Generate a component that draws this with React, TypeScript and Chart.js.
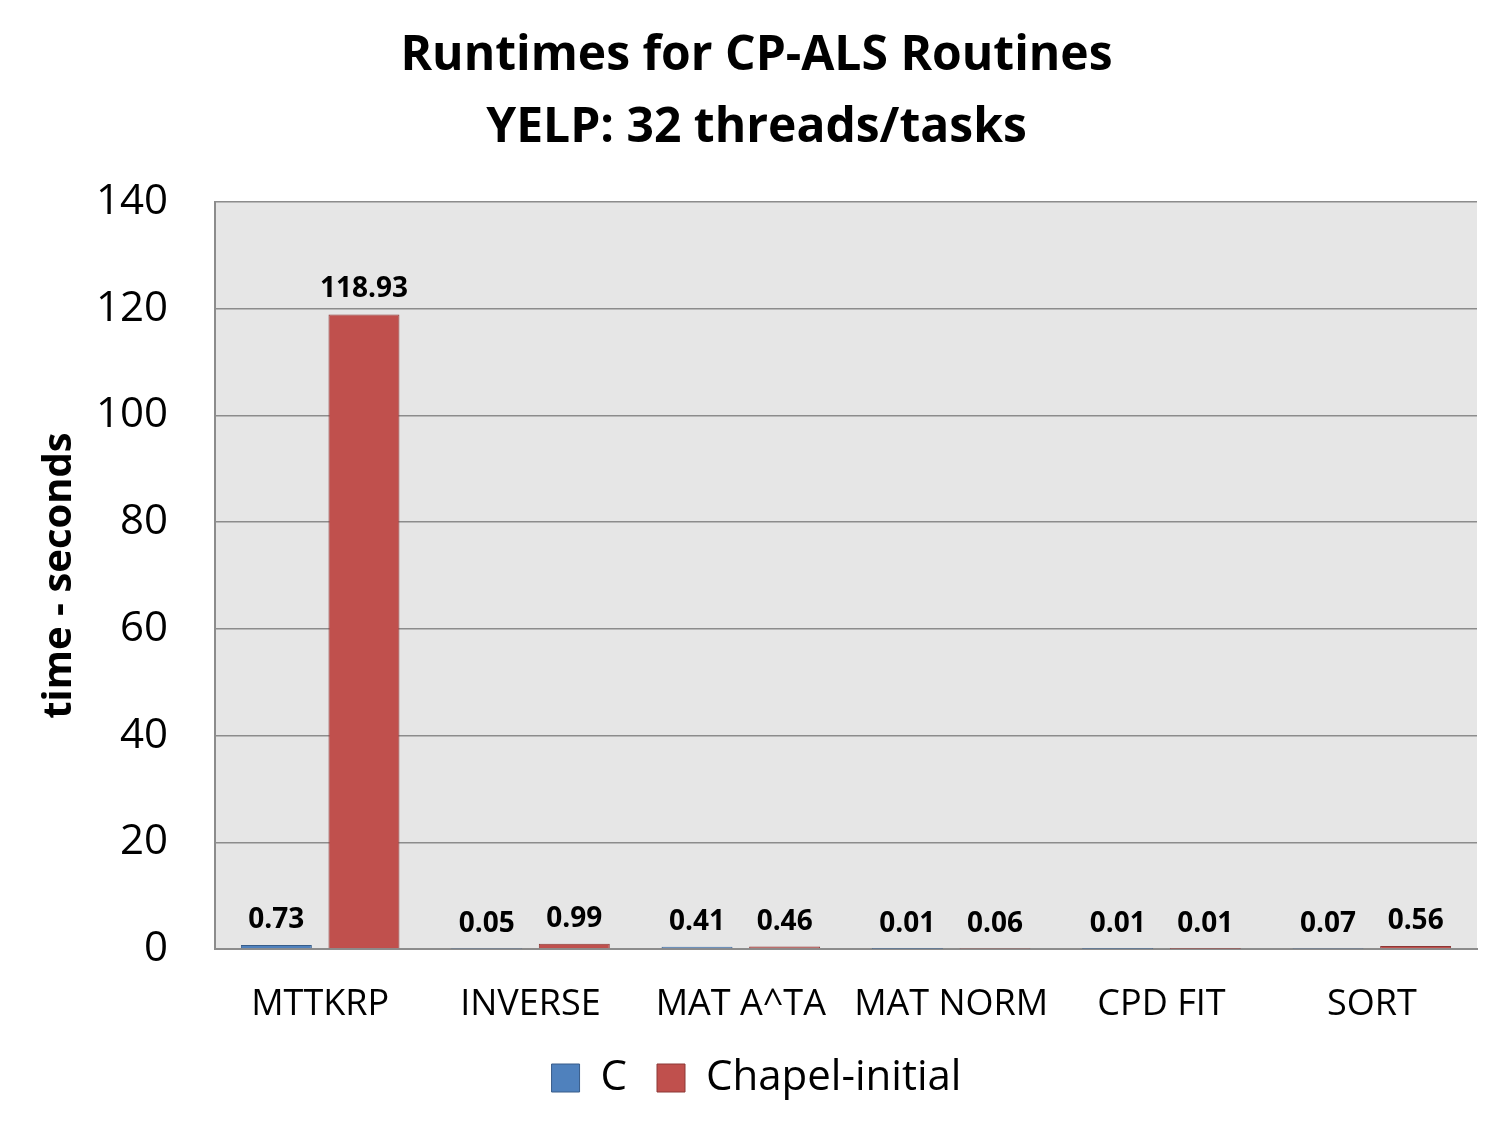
import React, { useEffect, useRef } from "react";
import { Chart, registerables } from "chart.js";

Chart.register(...registerables);

const categories = ["MTTKRP", "INVERSE", "MAT A^TA", "MAT NORM", "CPD FIT", "SORT"];
const cValues = [0.73, 0.05, 0.41, 0.01, 0.01, 0.07];
const chapelValues = [118.93, 0.99, 0.46, 0.06, 0.01, 0.56];
const seriesNames = ["C", "Chapel-initial"];
const titleLines = ["Runtimes for CP-ALS Routines", "YELP: 32 threads/tasks"];
const yTitle = "time - seconds";

const FONT = "'Open Sans', sans-serif";

const plotBg = {
  id: "plotBg",
  beforeDraw(chart: any) {
    const { ctx, chartArea } = chart;
    ctx.save();
    ctx.fillStyle = "#e6e6e6";
    ctx.fillRect(chartArea.left, chartArea.top, chartArea.right - chartArea.left, chartArea.bottom - chartArea.top);
    ctx.restore();
  },
};

const dataLabels = {
  id: "dataLabels",
  afterDatasetsDraw(chart: any) {
    const { ctx } = chart;
    ctx.save();
    ctx.fillStyle = "#000";
    ctx.textAlign = "center";
    ctx.textBaseline = "alphabetic";
    ctx.font = `bold 28px ${FONT}`;
    chart.data.datasets.forEach((ds: any, i: number) => {
      const meta = chart.getDatasetMeta(i);
      meta.data.forEach((el: any, j: number) => {
        const v = ds.data[j];
        ctx.fillText(v.toFixed(2), el.x, el.y - 17);
      });
    });
    ctx.restore();
  },
};

export default function App() {
  const ref = useRef<HTMLCanvasElement | null>(null);
  useEffect(() => {
    document.body.style.margin = "0";
    const chart = new Chart(ref.current!, {
      type: "bar",
      data: {
        labels: categories,
        datasets: [
          {
            label: seriesNames[0],
            data: cValues,
            backgroundColor: "#4f81bd",
            borderColor: "#385d8a",
            borderWidth: 1,
          },
          {
            label: seriesNames[1],
            data: chapelValues,
            backgroundColor: "#c0504d",
            borderColor: "#8c3836",
            borderWidth: 1,
          },
        ],
      },
      options: {
        animation: false,
        responsive: false,
        devicePixelRatio: 1,
        datasets: { bar: { categoryPercentage: 0.833, barPercentage: 0.81 } },
        layout: { padding: { left: 36, right: 23, top: 0, bottom: 16 } },
        plugins: {
          title: {
            display: true,
            text: titleLines,
            color: "#000",
            font: { family: FONT, size: 48, weight: "bold", lineHeight: 1.49 },
            padding: { top: 21, bottom: 38 },
          },
          legend: {
            position: "bottom",
            labels: {
              color: "#000",
              font: { family: FONT, size: 42 },
              boxWidth: 28,
              boxHeight: 28,
              padding: 30,
            },
          },
          tooltip: { enabled: false },
        },
        scales: {
          x: {
            grid: { display: false, drawTicks: false },
            border: { display: true, color: "#8c8c8c", width: 2 },
            ticks: { color: "#000", font: { family: FONT, size: 36 }, padding: 34 },
            afterFit: (scale: any) => {
              scale.height = 78;
            },
          },
          y: {
            min: 0,
            max: 140,
            ticks: { stepSize: 20, color: "#000", font: { family: FONT, size: 42 }, padding: 47 },
            grid: { color: "#8c8c8c", lineWidth: 1.5, drawTicks: false },
            border: { display: true, color: "#8c8c8c", width: 2 },
            title: {
              display: true,
              text: yTitle,
              color: "#000",
              font: { family: FONT, size: 40, weight: "bold" },
              padding: { top: 0, bottom: 0 },
            },
            afterFit: (scale: any) => {
              scale.width = 179;
            },
          },
        },
      },
      plugins: [plotBg, dataLabels],
    });
    return () => chart.destroy();
  }, []);
  return <canvas ref={ref} width={1500} height={1125} style={{ display: "block" }} />;
}
